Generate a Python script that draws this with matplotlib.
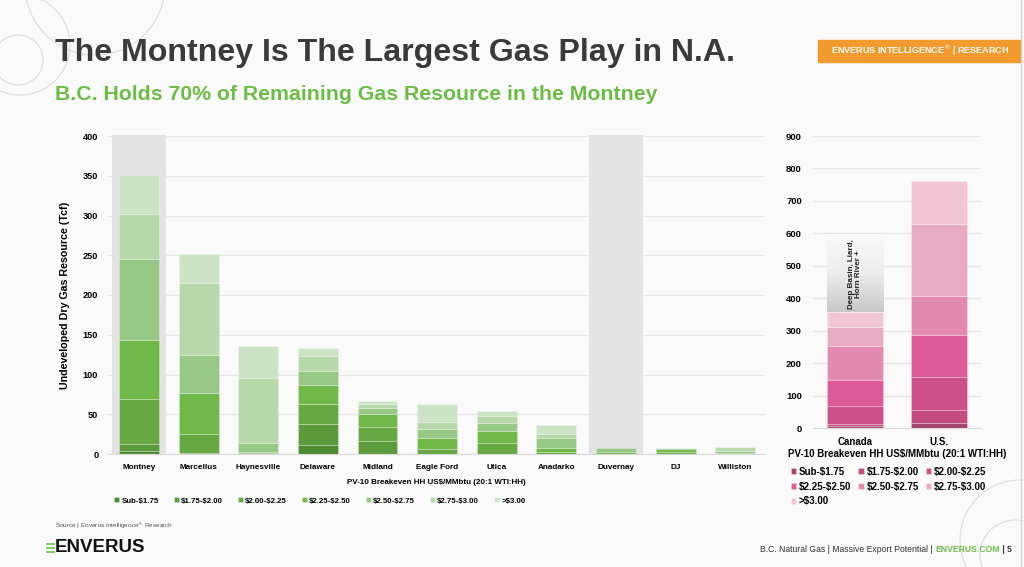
import numpy as np
import matplotlib
matplotlib.use("Agg")
import matplotlib.pyplot as plt
from matplotlib.patches import Rectangle, Ellipse
from matplotlib.colors import LinearSegmentedColormap

#%% Data (Tcf)
plays = ['Montney', 'Marcellus', 'Haynesville', 'Delaware', 'Midland', 'Eagle Ford',
         'Utica', 'Anadarko', 'Duvernay', 'DJ', 'Williston']
bins = ['Sub-$1.75', '$1.75-$2.00', '$2.00-$2.25', '$2.25-$2.50',
        '$2.50-$2.75', '$2.75-$3.00', '>$3.00']
sub_175 = [3.4, 0.5, 0, 10.9, 0, 0, 0, 0, 0, 0, 0]
b175_200 = [8.7, 0.5, 0, 26.4, 16.8, 0, 0, 0, 0, 0, 0]
b200_225 = [56.6, 24, 1, 25.9, 17.5, 6.7, 13.4, 3, 0, 2, 0]
b225_250 = [75.3, 52, 2, 23.9, 15.6, 13.8, 16, 5, 3, 4, 1]
b250_275 = [101.4, 48, 11, 17.6, 7.6, 10.5, 9.2, 12.5, 5, 1.5, 3]
b275_300 = [56.6, 90, 81, 19, 5, 9.6, 9.2, 4.3, 0.8, 0.5, 4.4]
above_300 = [49, 37, 41, 9.6, 4.2, 21.9, 6.2, 11.7, 0, 0, 0]
highlight = ['Montney', 'Duvernay']

countries = ['Canada', 'U.S.']
canada = [7.2, 6.1, 56.5, 78, 105.7, 58.5, 45]
us = [15.4, 42.1, 100.5, 130.4, 119, 220.6, 133.5]
canada_other = 238  # Deep Basin, Liard, Horn River +
canada_other_label = 'Deep Basin, Liard,\nHorn River +'
xlabel = 'PV-10 Breakeven HH US$/MMbtu (20:1 WTI:HH)'

greens = ['#4e8a30', '#5c9a3b', '#67a843', '#71b84a', '#98c885', '#b6d8aa', '#cce3c6']
pinks = ['#a8436f', '#c24c80', '#cd508a', '#dc5a97', '#e38ab1', '#e9abc3', '#f1c6d4']

def esc(s):
    return s.replace('$', r'\$')

plt.rcParams['font.family'] = ['Liberation Sans', 'DejaVu Sans']
bg = '#fafafa'
fig = plt.figure(figsize=(10.24, 5.67), dpi=100, facecolor=bg)

# decorative rings
def ring(x, y, r, lw=0.8, col='#dcdcdc'):
    fig.add_artist(Ellipse((x / 1024, 1 - y / 567), 2 * r / 1024, 2 * r / 567,
                           fill=False, ec=col, lw=lw, transform=fig.transFigure))
ring(95, -15, 70)
ring(20, 45, 50)
ring(18, 60, 25)
ring(1020, 540, 60)
ring(1015, 555, 35)
fig.add_artist(plt.Line2D([1021 / 1024] * 2, [0, 1], color='#d6d6d6', lw=1,
                          transform=fig.transFigure))

# header
fig.text(55 / 1024, 1 - 53 / 567, 'The Montney Is The Largest Gas Play in N.A.',
         fontweight='bold', fontsize=23.1, color='#3a3a3a', va='center')
fig.text(55 / 1024, 1 - 94 / 567, 'B.C. Holds 70% of Remaining Gas Resource in the Montney',
         fontweight='bold', fontsize=15.3, color='#6cbd45', va='center')
fig.add_artist(Rectangle((818 / 1024, 1 - 62 / 567), 203 / 1024, 22 / 567,
                         color='#f39a2e', transform=fig.transFigure))
fig.text(920 / 1024, 1 - 51 / 567, 'ENVERUS INTELLIGENCE$^{®}$ | RESEARCH',
         fontweight='bold', fontsize=6.5, color='white', ha='center', va='center')

#%% Main chart
ax = fig.add_axes([108 / 1024, 1 - 454 / 567, 657 / 1024, 318 / 567])
ax.set_facecolor(bg)
x = np.arange(len(plays))
for i, p in enumerate(plays):
    if p in highlight:
        ax.bar(i, 401, width=0.92, color='#e3e3e3', zorder=1, clip_on=False)
series = [sub_175, b175_200, b200_225, b225_250, b250_275, b275_300, above_300]
bottom = np.zeros(len(plays))
for vals, col, lab in zip(series, greens, bins):
    ax.bar(x, vals, bottom=bottom, width=0.67, color=col, label=esc(lab), zorder=2,
           edgecolor=(1, 1, 1, 0.35), linewidth=0.5)
    bottom += np.array(vals)
ax.set_xlim(-0.52, 10.5)
ax.set_ylim(0, 400)
ax.set_yticks(np.arange(0, 401, 50))
ax.grid(axis='y', color='#e6e6e6', lw=1, zorder=0)
ax.set_axisbelow(True)
for s in ['top', 'right', 'left']:
    ax.spines[s].set_visible(False)
ax.spines['bottom'].set_color('#d9d9d9')
ax.tick_params(length=0, pad=7)
ax.set_xticks(x)
ax.set_xticklabels(plays, fontweight='bold', fontsize=5.9)
for t in ax.get_yticklabels():
    t.set_fontweight('bold'); t.set_fontsize(6.6)
ax.set_ylabel('Undeveloped Dry Gas Resource (Tcf)', fontweight='bold', fontsize=7.7, labelpad=9)
ax.set_xlabel(esc(xlabel), fontweight='bold', fontsize=5.8, labelpad=6)
ax.legend(loc='center', bbox_to_anchor=(0.3125, 1 - 501 / 567), bbox_transform=fig.transFigure,
          ncol=7, frameon=False, handlelength=0.6, handleheight=0.6, handletextpad=0.3,
          columnspacing=1.9, prop=dict(weight='bold', size=5.7))

#%% Country chart
ax2 = fig.add_axes([813 / 1024, 1 - 428.3 / 567, 168 / 1024, 292.3 / 567])
ax2.set_facecolor(bg)
xc = np.arange(len(countries))
bottom = np.zeros(len(countries))
for j, (col, lab) in enumerate(zip(pinks, bins)):
    vals = np.array([canada[j], us[j]])
    ax2.bar(xc, vals, bottom=bottom, width=0.67, color=col, label=esc(lab), zorder=2,
            edgecolor=(1, 1, 1, 0.35), linewidth=0.5)
    bottom += vals
cbase = sum(canada)
grad = np.linspace(0, 1, 100).reshape(-1, 1)
cmap = LinearSegmentedColormap.from_list('g', ['#c8c8c8', '#ececec', '#fafafa'])
ax2.imshow(grad, extent=(-0.335, 0.335, cbase, cbase + canada_other), origin='lower',
           aspect='auto', cmap=cmap, zorder=2)
ax2.text(0, cbase + canada_other / 2, canada_other_label, rotation=90, ha='center',
         va='center', fontsize=5.8, fontweight='bold', color='#222222', zorder=3,
         linespacing=1.1)
ax2.set_xlim(-0.5, 1.5)
ax2.set_ylim(0, 900)
ax2.set_yticks(np.arange(0, 901, 100))
ax2.grid(axis='y', color='#e6e6e6', lw=1, zorder=0)
ax2.set_axisbelow(True)
for s in ['top', 'right', 'left']:
    ax2.spines[s].set_visible(False)
ax2.spines['bottom'].set_color('#d9d9d9')
ax2.tick_params(axis='y', length=0, pad=8)
ax2.tick_params(axis='x', length=0, pad=6)
ax2.set_xticks(xc)
ax2.set_xticklabels(countries, fontweight='bold', fontsize=7)
for t in ax2.get_yticklabels():
    t.set_fontweight('bold'); t.set_fontsize(6.8)
ax2.set_xlabel(esc(xlabel), fontweight='bold', fontsize=7, labelpad=2)
h, l = ax2.get_legend_handles_labels()
order = [0, 3, 6, 1, 4, 2, 5]  # legend reads row by row
ax2.legend([h[i] for i in order], [l[i] for i in order], loc='upper left',
           bbox_to_anchor=(782 / 1024, 1 - 458 / 567), bbox_transform=fig.transFigure,
           ncol=3, frameon=False, handlelength=0.55, handleheight=0.55, handletextpad=0.3,
           columnspacing=0.7, labelspacing=0.5, prop={'weight': 'bold', 'size': 7})

#%% Footer
fig.text(55 / 1024, 1 - 526 / 567, 'Source | Enverus Intelligence$^{®}$ Research',
         fontsize=4.6, color='#555555', va='center')
fig.text(55 / 1024, 1 - 548 / 567, 'ENVERUS', fontweight='bold', fontsize=13.5,
         color='#111111', va='center')
for dy in [-4, 0, 4]:
    fig.add_artist(plt.Line2D([47 / 1024, 54 / 1024], [1 - (548 + dy) / 567] * 2,
                              color='#6cbd45', lw=1.2, transform=fig.transFigure))
t1 = fig.text(760 / 1024, 1 - 550 / 567, 'B.C. Natural Gas | Massive Export Potential | ',
              fontsize=6.2, color='#333333', va='center')
fig.canvas.draw()
bb = t1.get_window_extent()
t2 = fig.text(bb.x1 / 1024, 1 - 550 / 567, 'ENVERUS.COM', fontsize=6.2,
              fontweight='bold', color='#6cbd45', va='center')
bb2 = t2.get_window_extent()
fig.text(bb2.x1 / 1024, 1 - 550 / 567, ' | 5', fontsize=6.2,
         fontweight='bold', color='#333333', va='center')

fig.savefig('out.png', dpi=100, facecolor=bg)
